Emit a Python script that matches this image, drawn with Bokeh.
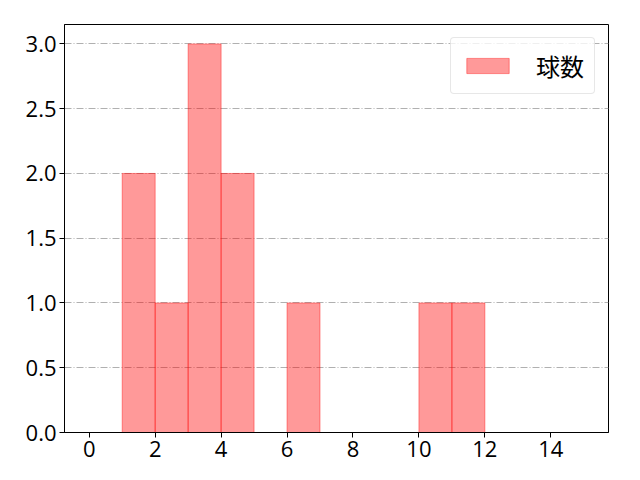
from bokeh.plotting import figure
from bokeh.models import (
    Range1d, SingleIntervalTicker, Legend, LegendItem, CustomJSTickFormatter
)
from bokeh.embed import file_html
from bokeh.resources import INLINE

# histogram data: bin edges and pitch counts
bin_edges = list(range(0, 16))
counts = [0, 2, 1, 3, 2, 0, 1, 0, 0, 0, 1, 1, 0, 0, 0]
series_name = "球数"

FONT = "Noto Sans CJK JP"
TICK_FONT = "Open Sans"

p = figure(
    width=624, height=464,
    x_range=Range1d(-0.75, 15.75),
    y_range=Range1d(0, 3.15),
    output_backend="svg",
    toolbar_location=None,
    min_border_left=64, min_border_right=16,
    min_border_top=24, min_border_bottom=32,
)

bars = p.quad(
    left=bin_edges[:-1], right=bin_edges[1:],
    bottom=[0] * len(counts), top=counts,
    fill_color="red", fill_alpha=0.4,
    line_color="red", line_alpha=0.4, line_width=1,
)

# axes
p.xaxis.ticker = SingleIntervalTicker(interval=2)
p.yaxis.ticker = SingleIntervalTicker(interval=0.5)
p.yaxis.formatter = CustomJSTickFormatter(code="return tick.toFixed(1);")
for ax in (p.xaxis, p.yaxis):
    ax.major_label_text_font = TICK_FONT
    ax.major_label_text_font_size = "22px"
    ax.major_label_text_color = "black"
    ax.axis_line_color = "black"
    ax.major_tick_line_color = "black"
    ax.major_tick_out = 5
    ax.major_tick_in = 0
    ax.minor_tick_line_color = None
    ax.major_label_standoff = 3

p.outline_line_color = "black"
p.outline_line_alpha = 1.0

p.xgrid.grid_line_color = None
p.ygrid.grid_line_color = "#b0b0b0"
p.ygrid.grid_line_dash = "7 2 1 2"
p.ygrid.grid_line_width = 1

legend = Legend(
    items=[LegendItem(label=series_name, renderers=[bars])],
    location="top_right",
    label_text_font=FONT,
    label_text_font_size="24px",
    label_text_color="black",
    glyph_width=53, glyph_height=19,
    label_standoff=22,
    padding=10, margin=13,
    border_line_color="#d0d0d0",
    border_line_width=1,
    background_fill_alpha=0.8,
)
legend.border_radius = 4
p.add_layout(legend)

open("out.html", "w").write(file_html(p, INLINE))
